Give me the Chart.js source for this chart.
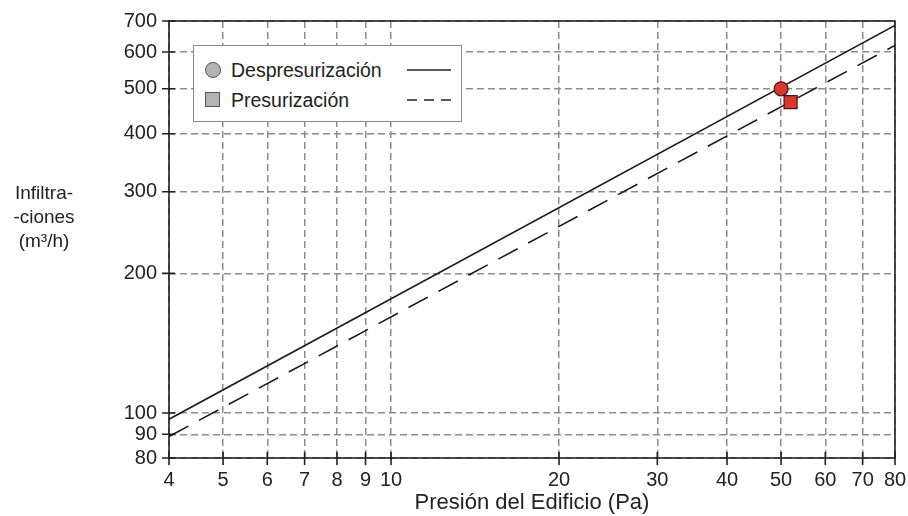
<!DOCTYPE html>
<html><head><meta charset="utf-8">
<script src="https://cdn.jsdelivr.net/npm/chart.js@4.4.1/dist/chart.umd.min.js"></script>
<style>
html,body{margin:0;padding:0;background:#fff;}
#wrap{position:relative;width:908px;height:516px;font-family:"Liberation Sans",Arial,sans-serif;color:#222;overflow:hidden;}
#c{position:absolute;left:0;top:0;}
#ytitle{position:absolute;left:0px;top:181px;width:88px;text-align:center;font-size:19px;line-height:24px;}
#legend{position:absolute;left:193px;top:45px;width:269px;height:77px;border:1.5px solid #8a8a8a;background:#fff;box-sizing:border-box;font-size:19.5px;}
.row{position:absolute;left:0;width:100%;height:24px;}
.txt{position:absolute;left:37px;top:0;line-height:24px;}
.ic{position:absolute;box-sizing:border-box;background:#b4b4b4;border:1.3px solid #555;}
.circ{left:11px;top:4px;width:16px;height:16px;border-radius:50%;}
.sq{left:11px;top:4px;width:15px;height:15px;}
.smp{position:absolute;left:212px;top:10px;}
</style></head>
<body>
<div id="wrap">
<canvas id="c" width="908" height="516"></canvas>
<div id="ytitle">Infiltra-<br>-ciones<br>(m³/h)</div>
<div id="legend">
 <div class="row" style="top:12px"><div class="ic circ"></div><div class="txt">Despresurización</div>
  <svg class="smp" width="46" height="4"><line x1="1" y1="2" x2="45" y2="2" stroke="#222" stroke-width="1.5"/></svg></div>
 <div class="row" style="top:42px"><div class="ic sq"></div><div class="txt">Presurización</div>
  <svg class="smp" width="46" height="4"><line x1="1" y1="2" x2="45" y2="2" stroke="#222" stroke-width="1.5" stroke-dasharray="10,7"/></svg></div>
</div>
</div>
<script>
// ---- data ----
const xTicks = [4, 5, 6, 7, 8, 9, 10, 20, 30, 40, 50, 60, 70, 80];
const yTicks = [80, 90, 100, 200, 300, 400, 500, 600, 700];
const despLineX = [4, 80];
const despLineY = [97, 685];
const presLineX = [4, 80];
const presLineY = [89, 620];
const despPointX = [50];
const despPointY = [500];
const presPointX = [52];
const presPointY = [468];

const FONT = '"Liberation Sans", Arial, sans-serif';
const pts = (xs, ys) => xs.map((x, i) => ({x: x, y: ys[i]}));

const framePlugin = {
  id: 'frame',
  beforeDatasetsDraw(chart) {
    const {ctx, chartArea: a, scales: {x, y}} = chart;
    ctx.save();
    ctx.setLineDash([]);
    ctx.strokeStyle = '#222';
    ctx.lineWidth = 1.6;
    ctx.strokeRect(a.left, a.top, a.right - a.left, a.bottom - a.top);
    ctx.beginPath();
    xTicks.forEach(v => { const p = x.getPixelForValue(v); ctx.moveTo(p, a.bottom - 6); ctx.lineTo(p, a.bottom + 7); });
    yTicks.forEach(v => { const p = y.getPixelForValue(v); ctx.moveTo(a.left - 7, p); ctx.lineTo(a.left + 6, p); });
    ctx.stroke();
    ctx.restore();
  }
};

const gridOpts = {drawTicks: false, color: '#8c8c8c', lineWidth: 1.5, borderDash: [7, 4]};
const borderOpts = {display: false, dash: [7, 4]};

new Chart(document.getElementById('c'), {
  type: 'scatter',
  data: {
    datasets: [
      {label: 'Despresurización (medida)', data: pts(despPointX, despPointY), pointStyle: 'circle', pointRadius: 7,
       backgroundColor: '#d93832', borderColor: '#4a1414', borderWidth: 1.2, order: 0},
      {label: 'Presurización (medida)', data: pts(presPointX, presPointY), pointStyle: 'rect', pointRadius: 9.2,
       backgroundColor: '#d93832', borderColor: '#4a1414', borderWidth: 1.2, order: 1},
      {label: 'Despresurización', data: pts(despLineX, despLineY), showLine: true, borderColor: '#1a1a1a',
       borderWidth: 1.6, pointRadius: 0, fill: false, order: 3},
      {label: 'Presurización', data: pts(presLineX, presLineY), showLine: true, borderColor: '#1a1a1a',
       borderWidth: 1.6, borderDash: [22, 12], pointRadius: 0, fill: false, order: 2}
    ]
  },
  options: {
    responsive: false, animation: false, devicePixelRatio: 1,
    layout: {padding: {left: 0, right: 13, top: 21, bottom: 0}},
    plugins: {legend: {display: false}, tooltip: {enabled: false}},
    scales: {
      x: {
        type: 'logarithmic', min: 4, max: 80,
        afterBuildTicks: s => { s.ticks = xTicks.map(v => ({value: v})); },
        afterFit: s => { s.height = 58; s.paddingLeft = 0; s.paddingRight = 0; },
        ticks: {autoSkip: false, maxRotation: 0, minRotation: 0, padding: 10, color: '#222',
                font: {size: 20, family: FONT}, callback: v => String(v)},
        grid: gridOpts, border: borderOpts,
        title: {display: true, text: 'Presión del Edificio (Pa)', color: '#222',
                font: {size: 22, family: FONT}, padding: {top: 0, bottom: 0}}
      },
      y: {
        type: 'logarithmic', min: 80, max: 700,
        afterBuildTicks: s => { s.ticks = yTicks.map(v => ({value: v})); },
        afterFit: s => { s.width = 169; s.paddingTop = 0; s.paddingBottom = 0; },
        ticks: {autoSkip: false, padding: 12, color: '#222',
                font: {size: 20, family: FONT}, callback: v => String(v)},
        grid: gridOpts, border: borderOpts
      }
    }
  },
  plugins: [framePlugin]
});
</script>
</body></html>
